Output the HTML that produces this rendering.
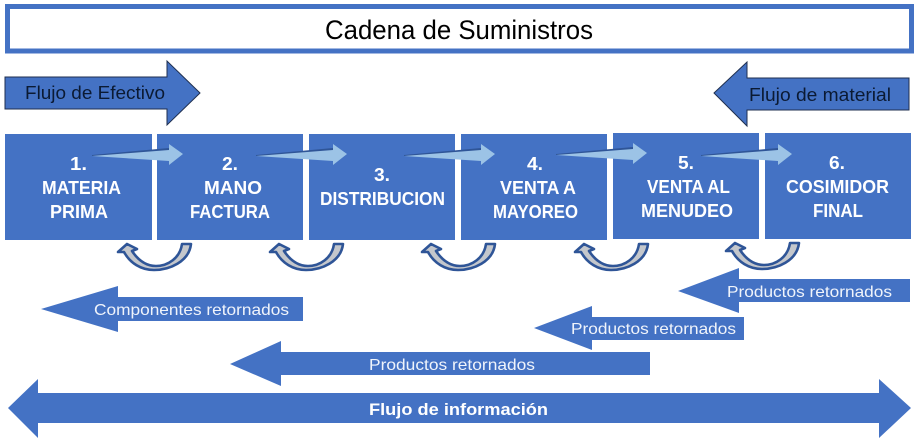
<!DOCTYPE html>
<html><head><meta charset="utf-8"><style>
html,body{margin:0;padding:0;background:#fff}
svg{display:block;filter:blur(0.3px)}
text{font-family:"Liberation Sans",sans-serif}
.b{fill:#fff;font-weight:bold;font-size:18px}
.w{fill:#f0f4fb;font-size:16px}
</style></head><body>
<svg width="923" height="442" viewBox="0 0 923 442" xmlns="http://www.w3.org/2000/svg">
<defs>
<g id="la">
<polygon points="0,-1 77,-8 77,-4 0,0" fill="#2f5597"/>
<polygon points="0,0 77,-6 77,-12 91,-2 77,9 77,5" fill="#9cc3e6"/>
</g>
<path id="u" d="M75,1 C73,19 53,27 38,27 C25,27 14,20 8,9 L2,9 L11,1 L21,6 L16,8 C22,17 30,23 40,23 C52,23 64,15 66,1 Z" fill="#c4c7cc" stroke="#2f5597" stroke-width="2.6" stroke-linejoin="round"/>
</defs>
<rect x="7.5" y="6.5" width="904" height="44.5" fill="#fff" stroke="#4472c4" stroke-width="5"/>
<text x="325" y="39" font-size="27" textLength="268" lengthAdjust="spacingAndGlyphs" fill="#000">Cadena de Suministros</text>

<polygon points="5,77 167,77 167,61 200,93 167,125 167,109 5,109" fill="#4472c4" stroke="#1f2f4f" stroke-width="1"/>
<text x="25" y="99" font-size="18" textLength="140" lengthAdjust="spacingAndGlyphs" fill="#0b1a33">Flujo de Efectivo</text>
<polygon points="714,93 747,62 747,78 909,78 909,110 747,110 747,126" fill="#4472c4" stroke="#1f2f4f" stroke-width="1"/>
<text x="749" y="101" font-size="18" textLength="142" lengthAdjust="spacingAndGlyphs" fill="#0b1a33">Flujo de material</text>

<g fill="#4472c4">
<rect x="5" y="134" width="147" height="106"/>
<rect x="157" y="134" width="146" height="106"/>
<rect x="309" y="134" width="146" height="106"/>
<rect x="461" y="134" width="146" height="106"/>
<rect x="613" y="133" width="146" height="106"/>
<rect x="765" y="133" width="146" height="106"/>
</g>

<use href="#la" x="92" y="156"/>
<use href="#la" x="256" y="156"/>
<use href="#la" x="404" y="156"/>
<use href="#la" x="556" y="155"/>
<use href="#la" x="701" y="156"/>

<text class="b" x="70" y="170" textLength="17" lengthAdjust="spacingAndGlyphs">1.</text>
<text class="b" x="42" y="194" textLength="79" lengthAdjust="spacingAndGlyphs">MATERIA</text>
<text class="b" x="50" y="218" textLength="58" lengthAdjust="spacingAndGlyphs">PRIMA</text>
<text class="b" x="222" y="170" textLength="16" lengthAdjust="spacingAndGlyphs">2.</text>
<text class="b" x="204" y="194" textLength="58" lengthAdjust="spacingAndGlyphs">MANO</text>
<text class="b" x="190" y="218" textLength="80" lengthAdjust="spacingAndGlyphs">FACTURA</text>
<text class="b" x="374" y="181" textLength="16" lengthAdjust="spacingAndGlyphs">3.</text>
<text class="b" x="320" y="205" textLength="125" lengthAdjust="spacingAndGlyphs">DISTRIBUCION</text>
<text class="b" x="527" y="170" textLength="16" lengthAdjust="spacingAndGlyphs">4.</text>
<text class="b" x="500" y="194" textLength="76" lengthAdjust="spacingAndGlyphs">VENTA A</text>
<text class="b" x="493" y="218" textLength="85" lengthAdjust="spacingAndGlyphs">MAYOREO</text>
<text class="b" x="678" y="169" textLength="16" lengthAdjust="spacingAndGlyphs">5.</text>
<text class="b" x="647" y="193" textLength="83" lengthAdjust="spacingAndGlyphs">VENTA AL</text>
<text class="b" x="641" y="217" textLength="92" lengthAdjust="spacingAndGlyphs">MENUDEO</text>
<text class="b" x="829" y="169" textLength="16" lengthAdjust="spacingAndGlyphs">6.</text>
<text class="b" x="786" y="193" textLength="103" lengthAdjust="spacingAndGlyphs">COSIMIDOR</text>
<text class="b" x="813" y="217" textLength="50" lengthAdjust="spacingAndGlyphs">FINAL</text>

<use href="#u" x="116" y="243"/>
<use href="#u" x="268" y="243"/>
<use href="#u" x="420" y="243"/>
<use href="#u" x="573" y="243"/>
<use href="#u" x="724" y="242"/>

<g fill="#4472c4">
<polygon points="41,309 118,286 118,297 303,297 303,321 118,321 118,332"/>
<polygon points="678,291 739,268 739,279 910,279 910,302 739,302 739,313"/>
<polygon points="534,328 592,306 592,317 744,317 744,340 592,340 592,350"/>
<polygon points="230,364 281,341 281,352 650,352 650,375 281,375 281,386"/>
<polygon points="8,408 38,379 38,393 879,393 879,379 911,408 879,438 879,423 38,423 38,438"/>
</g>
<text class="w" x="94" y="315" textLength="195" lengthAdjust="spacingAndGlyphs">Componentes retornados</text>
<text class="w" x="727" y="297" textLength="165" lengthAdjust="spacingAndGlyphs">Productos retornados</text>
<text class="w" x="571" y="334" textLength="165" lengthAdjust="spacingAndGlyphs">Productos retornados</text>
<text class="w" x="369" y="370" textLength="166" lengthAdjust="spacingAndGlyphs">Productos retornados</text>
<text x="369" y="415" font-size="17" font-weight="bold" fill="#fff" textLength="179" lengthAdjust="spacingAndGlyphs">Flujo de información</text>
</svg>
</body></html>
